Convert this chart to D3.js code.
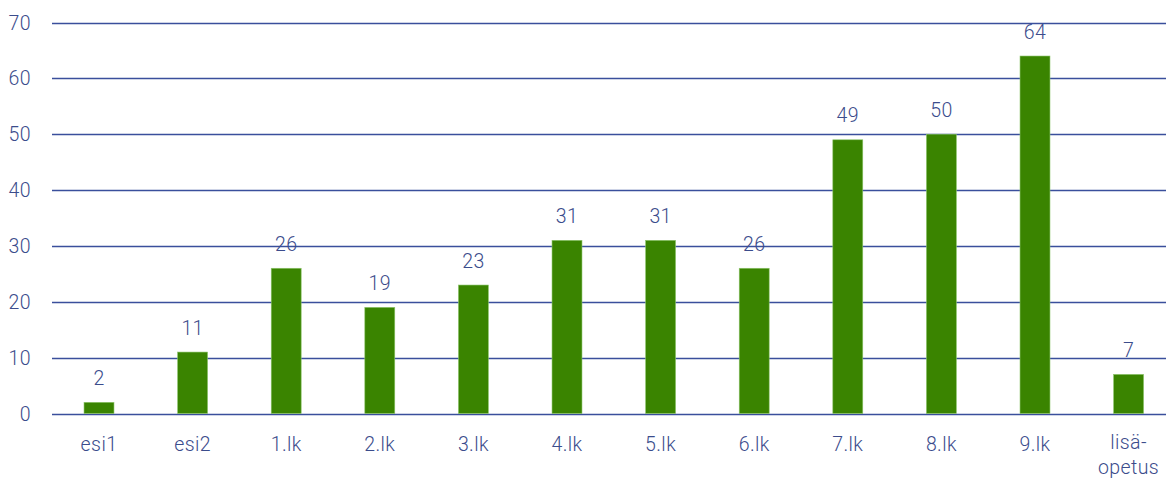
<!DOCTYPE html>
<html><head><meta charset="utf-8">
<script src="https://cdn.jsdelivr.net/npm/d3@7"></script>
<style>body{margin:0;background:#fff}svg{display:block}text{font-family:Roboto,"DejaVu Sans",sans-serif;font-weight:300;letter-spacing:0.4px}</style>
</head><body><svg id="c" width="1166" height="480"></svg>
<script>
const categories = ["esi1","esi2","1.lk","2.lk","3.lk","4.lk","5.lk","6.lk","7.lk","8.lk","9.lk","lisä-\nopetus"];
const values = [2,11,26,19,23,31,31,26,49,50,64,7];
const yTicks = [0,10,20,30,40,50,60,70];

const svg = d3.select("#c");
const textColor = "#3b4c8c", gridColor = "#3a4f9c";
const fs = 19.5;
const x = d3.scaleBand().domain(categories).range([52.2, 1175.4]).paddingInner(0.68).paddingOuter(0.34);
const y = d3.scaleLinear().domain([0,70]).range([413.5, 22.5]);

svg.append("g").selectAll("line").data(yTicks).join("line")
  .attr("x1", 52).attr("x2", 1166)
  .attr("y1", d => Math.round(y(d)) + 0.5).attr("y2", d => Math.round(y(d)) + 0.5)
  .attr("stroke", gridColor).attr("stroke-width", 1.3);

svg.append("g").selectAll("text").data(yTicks).join("text")
  .attr("x", 31).attr("y", d => y(d) + 7)
  .attr("text-anchor", "end").attr("font-size", fs).attr("fill", textColor)
  .text(d => d);

svg.append("g").selectAll("rect").data(values).join("rect")
  .attr("x", (d,i) => x(categories[i])).attr("width", x.bandwidth())
  .attr("y", d => y(d)).attr("height", d => y(0) - y(d))
  .attr("fill", "#3a8400").attr("stroke", "#8cc46a").attr("stroke-width", 0.6);

svg.append("g").selectAll("text").data(values).join("text")
  .attr("x", (d,i) => x(categories[i]) + x.bandwidth()/2)
  .attr("y", d => y(d) - 17.5)
  .attr("text-anchor", "middle").attr("font-size", fs).attr("fill", textColor)
  .text(d => d);

const cl = svg.append("g").selectAll("text").data(categories).join("text")
  .attr("x", d => x(d) + x.bandwidth()/2)
  .attr("y", d => d.includes("\n") ? 448.5 : 450.5)
  .attr("text-anchor", "middle").attr("font-size", fs).attr("fill", textColor);
cl.each(function(d){
  const parts = d.split("\n");
  d3.select(this).selectAll("tspan").data(parts).join("tspan")
    .attr("x", x(d) + x.bandwidth()/2).attr("dy", (p,j) => j ? 25.5 : 0).text(p => p);
});
</script></body></html>
